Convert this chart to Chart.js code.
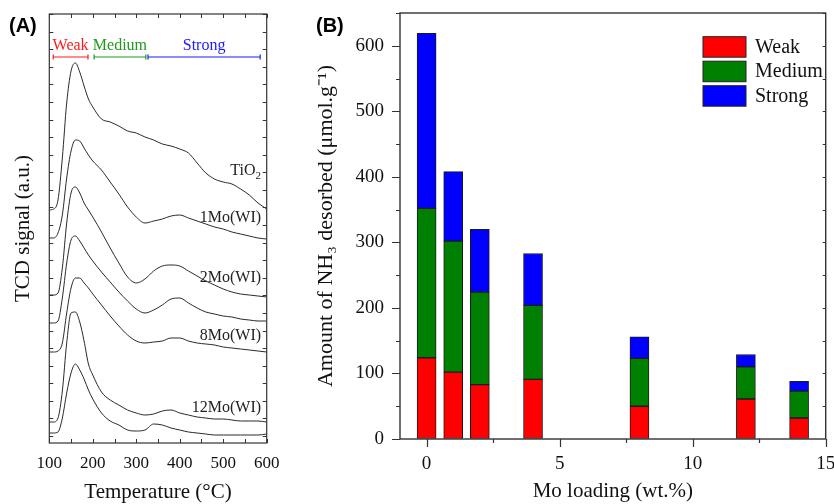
<!DOCTYPE html>
<html><head><meta charset="utf-8">
<script src="https://cdn.jsdelivr.net/npm/chart.js@4.4.1/dist/chart.umd.min.js"></script>
<style>
html,body{margin:0;padding:0;background:#fff;}
#wrap{position:relative;width:834px;height:504px;overflow:hidden;background:#fff;}
#cA{position:absolute;left:0;top:0;}
#cB{position:absolute;left:290px;top:0;}
</style></head><body>
<div id="wrap"><canvas id="cA" width="290" height="504"></canvas><canvas id="cB" width="544" height="504"></canvas></div>
<script>
// ---------- Panel A data: NH3-TPD profiles (offset, a.u.) ----------
const temperatures = [100,110,120,130,140,150,160,170,180,190,200,220,240,260,280,300,320,340,360,380,400,420,440,460,480,500,520,540,560,580,600];
const tcdTiO2  = [233,234,243,285,340,372,380,371,357,344,336,324,321,317,312,310,306,303,299,297,294,290,280,270,264,261,259,254,248,240,234];
const tcd1Mo   = [205,205,210,228,265,292,303,302,295,288,282,273,261,249,236,226,220,222,224,227,228,225,222,219,216,214,211,209,207,205,204];
const tcd2Mo   = [148,148,150,175,220,250,256,250,240,233,226,211,195,180,166,160,164,172,177,178,177,172,167,162,158,154,151,149,148,147,146];
const tcd4Mo   = [120,120,122,145,180,203,207,202,195,188,182,171,161,151,142,134,130,133,138,144,145,140,135,131,129,127,126,124,123,122,122];
const tcd8Mo   = [91,91,92,100,130,155,165,165,160,155,149,138,127,117,108,102,100,101,102,105,105,102,100,99,98,96,95,94,93,92,91];
const tcd12Mo  = [21,21,25,52,100,130,131,121,102,79,68,51,43,38,33,30,28,29,32,33,30,28,26,25,24,24,23,22,22,22,21];
const tcd14Mo  = [10,10,11,25,50,70,79,73,64,53,44,30,22,18,13,12,13,19,18,15,13,11,10,9,8,8,8,8,8,8,9];
const sampleNames = ['TiO2','1Mo(WI)','2Mo(WI)','4Mo(WI)','8Mo(WI)','12Mo(WI)','14Mo(WI)'];
const tcdSeries = [tcdTiO2,tcd1Mo,tcd2Mo,tcd4Mo,tcd8Mo,tcd12Mo,tcd14Mo];
const strengthNames = ['Weak','Medium','Strong'];
const bandStartT = [109,203,327];
const bandEndT   = [189,322,585];
const curveLabelMain = ['TiO','1Mo(WI)','2Mo(WI)','8Mo(WI)','12Mo(WI)'];
const curveLabelSub  = ['2','','','',''];

// ---------- Panel B data: NH3 desorbed (umol/g) ----------
const moLoading = [0,1,2,4,8,12,14];
const weakAcid   = [124,102,83,91,50,61,32];
const mediumAcid = [228,200,141,113,73,49,41];
const strongAcid = [267,106,96,79,33,19,15];

// ---------- styles / layout ----------
const SERIF = "'Liberation Serif','Times New Roman',serif";
const SANS = "'Liberation Sans',Arial,sans-serif";
const bandColors = ['#ff1a1a','#1e9a1e','#1a1aff'];
const barColors = ['#ff0000','#008000','#0000ff'];
const curveLabelY = [272,225,165,107,35];
const curveLabelT = 587;

Chart.defaults.font.family = SERIF;
Chart.defaults.color = '#111';

function rangeVals(a,b,s){const r=[];for(let v=a;v<=b+1e-9;v+=s)r.push(+v.toFixed(3));return r;}

// ===== Panel A =====
const xTicksA = rangeVals(100,600,50);
const yTicksA = rangeVals(7,429,17.58);

const pluginA = {
  id:'frameA',
  afterDraw(chart){
    const {ctx, chartArea:a, scales:{x,y}} = chart;
    ctx.save();
    ctx.strokeStyle='#333'; ctx.lineWidth=1.2;
    ctx.strokeRect(a.left, a.top, a.right-a.left, a.bottom-a.top);
    ctx.lineWidth=1; ctx.beginPath();
    xTicksA.forEach(v=>{const p=Math.round(x.getPixelForValue(v))+0.5;
      ctx.moveTo(p,a.bottom); ctx.lineTo(p,a.bottom-4);
      ctx.moveTo(p,a.top); ctx.lineTo(p,a.top+4);});
    yTicksA.forEach(v=>{const p=Math.round(y.getPixelForValue(v))+0.5;
      ctx.moveTo(a.left,p); ctx.lineTo(a.left+4,p);
      ctx.moveTo(a.right,p); ctx.lineTo(a.right-4,p);});
    ctx.stroke();
    // acid strength brackets
    const by = y.getPixelForValue(386), ty = y.getPixelForValue(397);
    strengthNames.forEach((n,i)=>{
      const x1=x.getPixelForValue(bandStartT[i]), x2=x.getPixelForValue(bandEndT[i]);
      ctx.strokeStyle=bandColors[i]; ctx.lineWidth=1.2; ctx.beginPath();
      ctx.moveTo(x1,by); ctx.lineTo(x2,by);
      ctx.moveTo(x1,by-2.5); ctx.lineTo(x1,by+2.5);
      ctx.moveTo(x2,by-2.5); ctx.lineTo(x2,by+2.5);
      ctx.stroke();
      ctx.fillStyle=bandColors[i]; ctx.font='16px '+SERIF;
      ctx.textAlign='center'; ctx.textBaseline='middle';
      ctx.fillText(n,(x1+x2)/2,ty);
    });
    // curve labels
    ctx.fillStyle='#222'; ctx.textBaseline='middle';
    const xr = x.getPixelForValue(curveLabelT);
    curveLabelMain.forEach((m,i)=>{
      const yy = y.getPixelForValue(curveLabelY[i]);
      const sub = curveLabelSub[i];
      ctx.font='11px '+SERIF;
      const sw = sub? ctx.measureText(sub).width : 0;
      if(sub){ ctx.textAlign='right'; ctx.fillText(sub,xr,yy+5); }
      ctx.font='16px '+SERIF; ctx.textAlign='right';
      ctx.fillText(m,xr-sw,yy);
    });
    // panel label
    ctx.fillStyle='#000'; ctx.font='bold 20px '+SANS; ctx.textAlign='left'; ctx.textBaseline='alphabetic';
    ctx.fillText('(A)',9,32);
    ctx.restore();
  }
};

new Chart(document.getElementById('cA'),{
  type:'line',
  data:{datasets: sampleNames.map((n,k)=>({
    label:n,
    data: temperatures.map((t,i)=>({x:t,y:tcdSeries[k][i]})),
    borderColor:'#2a2a2a', borderWidth:1, pointRadius:0, fill:false,
    cubicInterpolationMode:'monotone'
  }))},
  options:{
    responsive:false, animation:false, devicePixelRatio:1,
    layout:{padding:{left:0,top:14,right:23.3,bottom:0}},
    plugins:{legend:{display:false},tooltip:{enabled:false}},
    scales:{
      x:{type:'linear',min:100,max:600,
        afterBuildTicks:s=>{s.ticks=xTicksA.map(v=>({value:v}));},
        afterFit:s=>{s.height=61;s.paddingLeft=0;s.paddingRight=0;},
        grid:{display:true,drawOnChartArea:false,drawTicks:false,offset:false},border:{display:false},
        ticks:{autoSkip:false,maxRotation:0,padding:10,color:'#111',font:{family:SERIF,size:17},
          callback:v=>(v%100===0?String(v):'')},
        title:{display:true,text:'Temperature (°C)',color:'#111',font:{family:SERIF,size:21},padding:{top:0,bottom:-1}}},
      y:{min:0,max:429,
        afterFit:s=>{s.width=49.3;s.paddingTop=0;s.paddingBottom=0;},
        grid:{display:true,drawOnChartArea:false,drawTicks:false},border:{display:false},
        ticks:{display:false},
        title:{display:true,text:'TCD signal (a.u.)',color:'#111',font:{family:SERIF,size:21},padding:{top:11,bottom:0}}}
    }
  },
  plugins:[pluginA]
});

// ===== Panel B =====
const xTicksB = rangeVals(0,15,2.5);
const yTicksB = rangeVals(0,650,50);

const pluginB = {
  id:'frameB',
  afterDraw(chart){
    const {ctx, chartArea:a, scales:{x,y}} = chart;
    ctx.save();
    ctx.strokeStyle='#333'; ctx.lineWidth=1.4;
    ctx.strokeRect(a.left, a.top, a.right-a.left, a.bottom-a.top);
    ctx.lineWidth=1.2; ctx.beginPath();
    yTicksB.forEach(v=>{const p=Math.round(y.getPixelForValue(v))+0.5; const L=(v%100===0)?8:4;
      if(v>0){ctx.moveTo(a.left,p); ctx.lineTo(a.left-L,p);
      ctx.moveTo(a.right,p); ctx.lineTo(a.right-3,p);} else {ctx.moveTo(a.left,p); ctx.lineTo(a.left-L,p);}});
    xTicksB.forEach(v=>{const p=Math.round(x.getPixelForValue(v))+0.5; const L=(v%5===0)?8:4;
      ctx.moveTo(p,a.bottom); ctx.lineTo(p,a.bottom+L);});
    ctx.stroke();
    // legend
    const ds = chart.data.datasets;
    ds.forEach((d,i)=>{
      const top = 36.7 + i*24.5;
      ctx.fillStyle=d.backgroundColor; ctx.fillRect(413,top,43,20.5);
      ctx.strokeStyle='#222'; ctx.lineWidth=1; ctx.strokeRect(413,top,43,20.5);
      ctx.fillStyle='#111'; ctx.font='20px '+SERIF; ctx.textAlign='left'; ctx.textBaseline='middle';
      ctx.fillText(d.label,465,top+11);
    });
    ctx.fillStyle='#000'; ctx.font='bold 20px '+SANS; ctx.textAlign='left'; ctx.textBaseline='alphabetic';
    ctx.fillText('(B)',26,32);
    ctx.restore();
  }
};

const acidSeries = [weakAcid,mediumAcid,strongAcid];
new Chart(document.getElementById('cB'),{
  type:'bar',
  data:{datasets: strengthNames.map((n,k)=>({
    label:n,
    data: moLoading.map((m,i)=>({x:m,y:acidSeries[k][i]})),
    backgroundColor:barColors[k], borderColor:'#1a1a1a', borderWidth:1, borderSkipped:false,
    barThickness:19, stack:'acid'
  }))},
  options:{
    responsive:false, animation:false, devicePixelRatio:1,
    layout:{padding:{left:0,top:13,right:8.3,bottom:0}},
    plugins:{legend:{display:false},tooltip:{enabled:false}},
    scales:{
      x:{type:'linear',stacked:true,min:-1,max:15,offset:false,
        afterBuildTicks:s=>{s.ticks=xTicksB.map(v=>({value:v}));},
        afterFit:s=>{s.height=65;s.paddingLeft=0;s.paddingRight=0;},
        grid:{display:true,drawOnChartArea:false,drawTicks:false,offset:false},border:{display:false},
        ticks:{autoSkip:false,maxRotation:0,padding:14,color:'#111',font:{family:SERIF,size:19},
          callback:v=>(v%5===0?String(v):'')},
        title:{display:true,text:'Mo loading (wt.%)',color:'#111',font:{family:SERIF,size:21},padding:{top:0,bottom:0}}},
      y:{type:'linear',stacked:true,min:0,max:650,
        afterBuildTicks:s=>{s.ticks=yTicksB.map(v=>({value:v}));},
        afterFit:s=>{s.width=110;s.paddingTop=0;s.paddingBottom=0;},
        grid:{display:true,drawOnChartArea:false,drawTicks:false},border:{display:false},
        ticks:{autoSkip:false,padding:16,color:'#111',font:{family:SERIF,size:19},
          callback:v=>(v%100===0?String(v):'')},
        title:{display:true,text:'Amount of NH\u2083 desorbed (\u03bcmol.g\u207b\u00b9)',color:'#111',font:{family:SERIF,size:22},padding:{top:23,bottom:0}}}
    }
  },
  plugins:[pluginB]
});
</script>
</body></html>
